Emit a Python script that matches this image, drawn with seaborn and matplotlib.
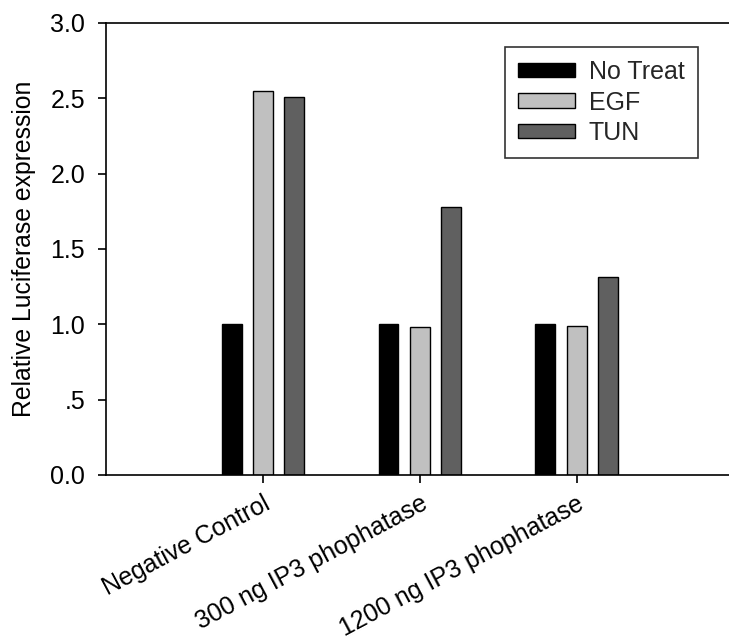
import matplotlib
matplotlib.use("Agg")
import matplotlib.pyplot as plt
import seaborn as sns
import pandas as pd

# Data
groups = ["Negative Control", "300 ng IP3 phophatase", "1200 ng IP3 phophatase"]
treatments = ["No Treat", "EGF", "TUN"]
no_treat = [1.0, 1.0, 1.0]
egf = [2.55, 0.985, 0.99]
tun = [2.51, 1.78, 1.315]
yticks = [0.0, 0.5, 1.0, 1.5, 2.0, 2.5, 3.0]
ytick_labels = ["0.0", ".5", "1.0", "1.5", "2.0", "2.5", "3.0"]

df = pd.DataFrame({
    "group": groups * 3,
    "treatment": [t for t in treatments for _ in groups],
    "value": no_treat + egf + tun,
})

sns.set_theme(style="white")
plt.rcParams["font.family"] = ["Liberation Sans", "DejaVu Sans"]

fig = plt.figure(figsize=(7.29, 6.40), dpi=100)
ax = fig.add_axes([106 / 729, 1 - 475 / 640, 623 / 729, (475 - 23) / 640])

palette = {"No Treat": "#000000", "EGF": "#c0c0c0", "TUN": "#606060"}
sns.barplot(data=df, x="group", y="value", hue="treatment", order=groups,
            hue_order=treatments, palette=palette, width=0.6, gap=0.365,
            edgecolor="black", linewidth=1.0, saturation=1, ax=ax, errorbar=None)

ax.set_xlim(-1.0, 2.97)
ax.set_ylim(0, 3.0)
ax.set_yticks(yticks)
ax.set_yticklabels(ytick_labels, fontsize=18, color="black")
ax.set_xticks(range(len(groups)))
ax.set_xticklabels(groups, fontsize=18, rotation=28, ha="right",
                   rotation_mode="anchor", color="black")
for lbl in ax.get_xticklabels():
    lbl.set_va("top")
ax.set_xlabel("")
ax.set_ylabel("Relative Luciferase expression", fontsize=17.8, color="black",
              labelpad=10)

for side in ["left", "top", "bottom"]:
    ax.spines[side].set_visible(True)
    ax.spines[side].set_color("black")
    ax.spines[side].set_linewidth(1.2)
ax.spines["right"].set_visible(False)
ax.tick_params(axis="y", direction="out", length=6, width=1.2, color="black",
               left=True, pad=9)
ax.tick_params(axis="x", direction="out", length=6, width=1.2, color="black",
               bottom=True, pad=6)

handles, labels = ax.get_legend_handles_labels()
ax.legend(handles, labels, loc="upper left",
          bbox_to_anchor=(505 / 729, 1 - 47 / 640), bbox_transform=fig.transFigure,
          frameon=True, fancybox=False, edgecolor="black", fontsize=18,
          handlelength=2.28, handleheight=0.52, labelspacing=0.26,
          borderpad=0.52, handletextpad=0.55, borderaxespad=0)
ax.get_legend().get_frame().set_linewidth(1.2)

fig.savefig("out.png", dpi=100, facecolor="white")
